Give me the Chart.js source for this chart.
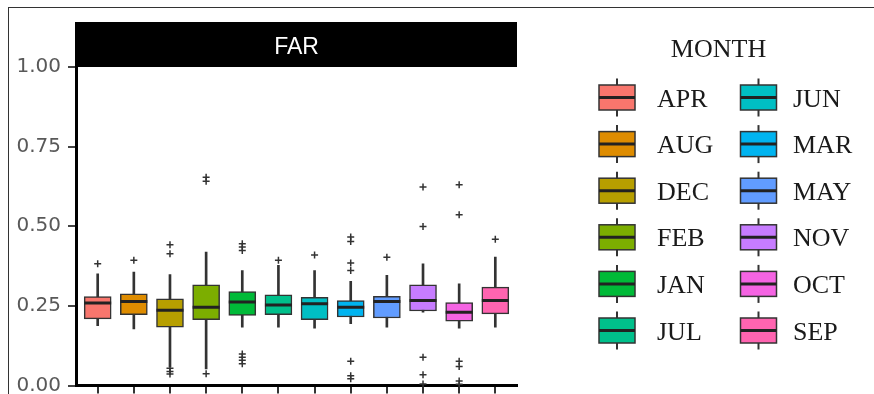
<!DOCTYPE html>
<html>
<head>
<meta charset="utf-8">
<script src="https://cdn.jsdelivr.net/npm/chart.js@4.4.1/dist/chart.umd.min.js"></script>
<style>
    html, body { margin: 0; padding: 0; background: #fff; overflow: hidden; }
    #wrap { position: relative; width: 874px; height: 394px; overflow: hidden; }
    #frame { position: absolute; left: 8px; top: 7px; right: 0; bottom: 0; border-top: 1px solid #333; border-left: 1px solid #333; }
    canvas { position: absolute; left: 0; top: 0; }
</style>
</head>
<body>
<div id="wrap">
    <div id="frame"></div>
    <!-- el lienzo es algo mas alto que la ventana: la figura original esta recortada bajo el eje x -->
    <canvas id="farChart" width="874" height="402"></canvas>
</div>
<script>
// valores (FAR por mes)
var months = ['APR', 'AUG', 'DEC', 'FEB', 'JAN', 'JUL', 'JUN', 'MAR', 'MAY', 'NOV', 'OCT', 'SEP'];
var monthColors = ['#F8766D', '#DE8C00', '#B79F00', '#7CAE00', '#00BA38', '#00C08B', '#00BFC4', '#00B4F0', '#619CFF', '#C77CFF', '#F564E3', '#FF64B0'];
var q1 = [0.209, 0.222, 0.183, 0.207, 0.220, 0.222, 0.207, 0.215, 0.212, 0.234, 0.202, 0.225];
var medians = [0.259, 0.264, 0.236, 0.246, 0.262, 0.253, 0.257, 0.246, 0.264, 0.267, 0.230, 0.267];
var q3 = [0.279, 0.288, 0.272, 0.316, 0.295, 0.285, 0.277, 0.267, 0.280, 0.316, 0.260, 0.309];
var whiskerLow = [0.188, 0.178, 0.058, 0.052, 0.183, 0.183, 0.180, 0.194, 0.183, 0.230, 0.180, 0.183];
var whiskerHigh = [0.351, 0.356, 0.348, 0.419, 0.361, 0.377, 0.361, 0.327, 0.346, 0.382, 0.319, 0.403];
var outliers = [
    [0.382],
    [0.393],
    [0.442, 0.414, 0.054, 0.044, 0.036],
    [0.654, 0.641, 0.037],
    [0.445, 0.435, 0.424, 0.099, 0.089, 0.079, 0.068],
    [0.393],
    [0.410],
    [0.466, 0.452, 0.385, 0.361, 0.076, 0.031, 0.021],
    [0.403],
    [0.623, 0.499, 0.089, 0.034, 0.005],
    [0.630, 0.536, 0.076, 0.060, 0.014, 0.004],
    [0.459]
];
var yTicks = [0, 0.25, 0.5, 0.75, 1];
var panelTitle = 'FAR';
var legendTitle = 'MONTH';

var xPos = months.map(function (m, i) { return i + 1; });

var outlierPoints = [];
outliers.forEach(function (list, i) {
    list.forEach(function (v) { outlierPoints.push({x: xPos[i], y: v}); });
});

// franja negra con el nombre del panel
var stripPlugin = {
    id: 'strip',
    afterDraw: function (chart) {
        var ctx = chart.ctx, a = chart.chartArea;
        ctx.save();
        ctx.fillStyle = '#000';
        ctx.fillRect(a.left - 1, 22, a.right - a.left + 1, a.top - 22);
        ctx.fillStyle = '#fff';
        ctx.font = '23px "Liberation Sans", Arial, sans-serif';
        ctx.textAlign = 'center';
        ctx.textBaseline = 'alphabetic';
        ctx.fillText(panelTitle, (a.left + a.right) / 2, 54);
        ctx.restore();
    }
};

// leyenda estilo ggplot, dos columnas
var legendPlugin = {
    id: 'boxLegend',
    afterDraw: function (chart) {
        var ctx = chart.ctx;
        var keyX = [617, 758.5], textX = [657, 793];
        var rowY0 = 97.5, rowStep = 46.6;
        ctx.save();
        ctx.fillStyle = '#1a1a1a';
        ctx.font = '26px "Liberation Serif", "Times New Roman", serif';
        ctx.textAlign = 'center';
        ctx.fillText(legendTitle, 718.5, 57);
        months.forEach(function (m, i) {
            var col = Math.floor(i / 6), row = i % 6;
            var cx = keyX[col], cy = rowY0 + row * rowStep;
            ctx.strokeStyle = '#333';
            ctx.lineWidth = 2;
            ctx.beginPath();
            ctx.moveTo(cx, cy - 19);
            ctx.lineTo(cx, cy + 19);
            ctx.stroke();
            ctx.fillStyle = monthColors[i];
            ctx.fillRect(cx - 18, cy - 12.5, 36, 25);
            ctx.lineWidth = 1.5;
            ctx.strokeRect(cx - 18, cy - 12.5, 36, 25);
            ctx.lineWidth = 3;
            ctx.strokeStyle = '#222';
            ctx.beginPath();
            ctx.moveTo(cx - 18, cy);
            ctx.lineTo(cx + 18, cy);
            ctx.stroke();
            ctx.fillStyle = '#1a1a1a';
            ctx.textAlign = 'left';
            ctx.fillText(m, textX[col], cy + 9);
        });
        ctx.restore();
    }
};

var ctx = document.getElementById('farChart').getContext('2d');
var farChart = new Chart(ctx, {
    type: 'bar',
    data: {
        datasets: [{
            type: 'scatter',
            label: 'outliers',
            data: outlierPoints,
            pointStyle: 'cross',
            pointRadius: 3.5,
            pointBorderWidth: 1.5,
            pointBorderColor: '#333',
            clip: false,
            order: 0
        }, {
            type: 'scatter',
            label: 'median',
            data: xPos.map(function (x, i) { return {x: x, y: medians[i]}; }),
            pointStyle: 'line',
            pointRadius: 13.5,
            pointBorderWidth: 3,
            pointBorderColor: '#222',
            order: 1
        }, {
            label: 'box',
            data: xPos.map(function (x, i) { return {x: x, y: [q1[i], q3[i]]}; }),
            backgroundColor: monthColors,
            borderColor: '#333',
            borderWidth: 1.5,
            borderSkipped: false,
            barThickness: 27,
            grouped: false,
            order: 2
        }, {
            label: 'whisker',
            data: xPos.map(function (x, i) { return {x: x, y: [whiskerLow[i], whiskerHigh[i]]}; }),
            backgroundColor: '#333',
            borderWidth: 0,
            barThickness: 2,
            grouped: false,
            order: 3
        }]
    },
    options: {
        responsive: false,
        animation: false,
        layout: {padding: {top: 67, right: 357, bottom: 0, left: 0}},
        plugins: {
            legend: {display: false},
            tooltip: {enabled: false}
        },
        scales: {
            x: {
                type: 'linear',
                min: 0.4,
                max: 12.6,
                offset: false,
                afterBuildTicks: function (scale) {
                    scale.ticks = xPos.map(function (v) { return {value: v}; });
                },
                afterFit: function (scale) {
                    scale.height = 8;
                    scale.paddingLeft = 0;
                    scale.paddingRight = 0;
                },
                ticks: {display: false},
                grid: {display: true, offset: false, drawOnChartArea: false, drawTicks: true, tickLength: 8, color: '#333', lineWidth: 2},
                border: {display: true, color: '#000', width: 3}
            },
            y: {
                min: 0,
                max: 1,
                afterBuildTicks: function (scale) {
                    scale.ticks = yTicks.map(function (v) { return {value: v}; });
                },
                afterFit: function (scale) {
                    scale.width = 76;
                    scale.paddingTop = 0;
                    scale.paddingBottom = 0;
                },
                ticks: {
                    padding: 7,
                    color: '#595959',
                    font: {family: '"DejaVu Sans", sans-serif', size: 20},
                    callback: function (v) { return Number(v).toFixed(2); }
                },
                grid: {display: true, drawOnChartArea: false, drawTicks: true, tickLength: 8, color: '#444', lineWidth: 2},
                border: {display: true, color: '#000', width: 3}
            }
        }
    },
    plugins: [stripPlugin, legendPlugin]
});
</script>
</body>
</html>
